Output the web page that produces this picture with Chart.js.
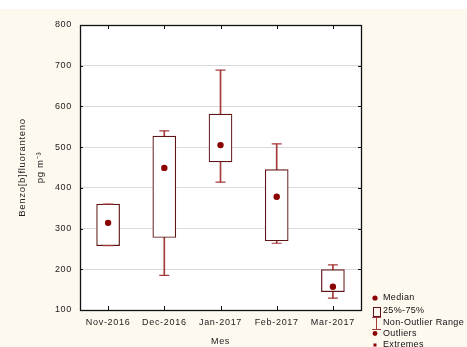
<!DOCTYPE html>
<html>
<head>
<meta charset="utf-8">
<script src="https://cdn.jsdelivr.net/npm/chart.js@4/dist/chart.umd.min.js"></script>
<style>
  html, body { margin: 0; padding: 0; background: #fff; }
  #wrap { width: 467px; height: 347px; position: relative; }
</style>
</head>
<body>
<div id="wrap"><canvas id="chart"></canvas></div>
<script>
const months = ['Nov-2016', 'Dec-2016', 'Jan-2017', 'Feb-2017', 'Mar-2017'];
const q1 = [258, 278, 464, 270, 145];
const q3 = [360, 527, 581, 445, 199];
const median = [314, 449, 505, 378, 157];
const whiskerLow = [258, 185, 414, 264, 129];
const whiskerHigh = [360, 540, 689, 508, 211];
const legendItems = ['Median', '25%-75%', 'Non-Outlier Range', 'Outliers', 'Extremes'];

const FONT = '"Liberation Sans", Arial, sans-serif';
const boxColor = '#5e1414';
const whiskerColor = '#a53a3a';
const dotColor = '#8b0000';

const frame = {
  id: 'frame',
  beforeDraw(chart) {
    const { ctx, chartArea: a } = chart;
    ctx.save();
    ctx.fillStyle = '#fff';
    ctx.fillRect(0, 0, chart.width, chart.height);
    ctx.fillStyle = '#fdf9ef';
    ctx.fillRect(0, 9, chart.width, chart.height - 9);
    ctx.fillStyle = '#fff';
    ctx.fillRect(a.left, a.top, a.right - a.left, a.bottom - a.top);
    ctx.restore();
    ctx.letterSpacing = '0.7px';
  },
  afterDraw(chart) {
    const { ctx, chartArea: a, scales } = chart;
    ctx.save();
    ctx.strokeStyle = '#111';
    ctx.lineWidth = 1;
    ctx.beginPath();
    scales.x.ticks.forEach((t, i) => {
      const x = Math.round(scales.x.getPixelForTick(i)) + 0.5;
      ctx.moveTo(x, a.bottom); ctx.lineTo(x, a.bottom - 4);
      ctx.moveTo(x, a.top); ctx.lineTo(x, a.top + 4);
    });
    scales.y.ticks.forEach(t => {
      const y = Math.round(scales.y.getPixelForValue(t.value)) + 0.5;
      ctx.moveTo(a.left, y); ctx.lineTo(a.left + 3, y);
      ctx.moveTo(a.right, y); ctx.lineTo(a.right - 3, y);
    });
    ctx.stroke();
    ctx.lineWidth = 1.3;
    ctx.strokeRect(Math.round(a.left) + 0.5, Math.round(a.top) + 0.5, Math.round(a.right - a.left), Math.round(a.bottom - a.top));

    // legend
    const lx = 375, ys = [298, 311, 322.5, 333.5, 345];
    ctx.letterSpacing = '0.35px';
    ctx.font = '9px ' + FONT;
    ctx.fillStyle = '#111';
    ctx.textBaseline = 'middle';
    ctx.textAlign = 'left';
    legendItems.forEach((txt, i) => ctx.fillText(txt, lx + 8, ys[i]));
    ctx.fillStyle = dotColor;
    ctx.beginPath(); ctx.arc(lx, ys[0], 2.6, 0, Math.PI * 2); ctx.fill();
    ctx.strokeStyle = boxColor; ctx.lineWidth = 1;
    ctx.strokeRect(373.5, 307.5, 7, 9);
    ctx.strokeStyle = whiskerColor;
    ctx.beginPath();
    ctx.moveTo(372, 317.5); ctx.lineTo(381, 317.5);
    ctx.moveTo(376.5, 317.5); ctx.lineTo(376.5, 329);
    ctx.moveTo(372, 329.5); ctx.lineTo(381, 329.5);
    ctx.stroke();
    ctx.fillStyle = dotColor;
    ctx.beginPath(); ctx.arc(lx, ys[3], 2.4, 0, Math.PI * 2); ctx.fill();
    ctx.fillRect(lx - 1.5, ys[4] - 1.5, 3, 3);
    ctx.restore();
  }
};

new Chart(document.getElementById('chart'), {
  data: {
    labels: months,
    datasets: [
      {
        type: 'bar', label: 'Non-Outlier Range',
        data: whiskerLow.map((v, i) => [v, whiskerHigh[i]]),
        backgroundColor: whiskerColor, barThickness: 1, grouped: false, order: 4
      },
      {
        type: 'bar', label: '25%-75%',
        data: q1.map((v, i) => [v, q3[i]]),
        backgroundColor: '#fff', borderColor: boxColor, borderWidth: 1.2,
        borderSkipped: false, barThickness: 23, grouped: false, order: 3
      },
      {
        type: 'line', label: 'high', data: whiskerHigh, showLine: false,
        pointStyle: 'line', pointRadius: 5, pointBorderColor: whiskerColor,
        pointBorderWidth: 1.2, order: 2
      },
      {
        type: 'line', label: 'low', data: whiskerLow, showLine: false,
        pointStyle: 'line', pointRadius: 5, pointBorderColor: whiskerColor,
        pointBorderWidth: 1.2, order: 2
      },
      {
        type: 'line', label: 'Median', data: median, showLine: false,
        pointStyle: 'circle', pointRadius: 3.2, pointBackgroundColor: dotColor,
        pointBorderColor: dotColor, pointBorderWidth: 0, order: 1
      }
    ]
  },
  options: {
    responsive: true,
    maintainAspectRatio: false,
    animation: false,
    layout: { padding: { top: 25, right: 106, left: 0, bottom: 0 } },
    plugins: { legend: { display: false }, tooltip: { enabled: false } },
    scales: {
      x: {
        offset: true,
        grid: { display: false, drawTicks: false },
        border: { display: false },
        ticks: { color: '#222', font: { family: FONT, size: 9 }, padding: 7, maxRotation: 0 },
        title: { display: true, text: 'Mes', color: '#222', font: { family: FONT, size: 9 }, padding: { top: 0, bottom: 0.5 } },
        afterFit(scale) { scale.height = 37; }
      },
      y: {
        min: 100, max: 800,
        grid: {
          drawTicks: false,
          color: ctx => (ctx.tick && (ctx.tick.value === 100 || ctx.tick.value === 800)) ? 'rgba(0,0,0,0)' : '#dadada'
        },
        border: { display: false },
        ticks: { stepSize: 100, color: '#222', font: { family: FONT, size: 9 }, padding: 8 },
        title: {
          display: true, text: ['Benzo[b]fluoranteno', 'pg m\u207B\u00B3'], color: '#222',
          font: { family: FONT, size: 9.5, lineHeight: 1.9 }, padding: { top: 13, bottom: 0 }
        },
        afterFit(scale) { scale.width = 80; }
      }
    }
  },
  plugins: [frame]
});
</script>
</body>
</html>
